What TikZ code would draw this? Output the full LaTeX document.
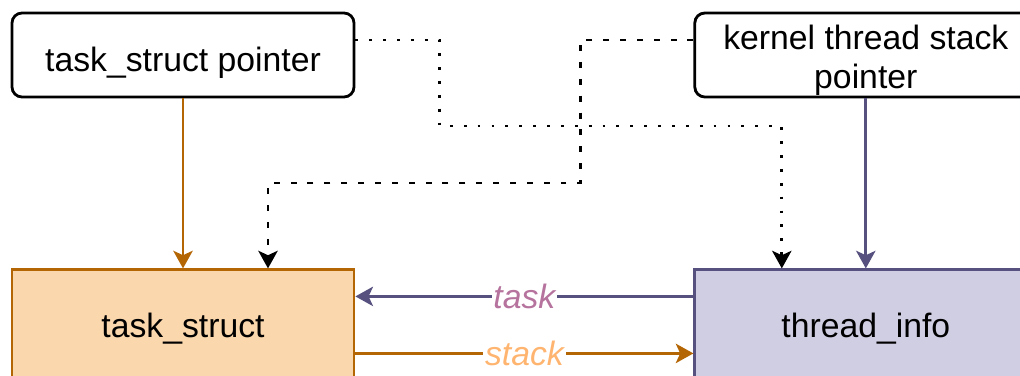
\documentclass[tikz,border=0pt]{standalone}
\usepackage{fontspec}
\setmainfont{Liberation Sans}
\usetikzlibrary{
    arrows.meta,
    positioning,
}
\definecolor{tsline}{HTML}{B46504}
\definecolor{tsfill}{HTML}{FAD7AC}
\definecolor{tiline}{HTML}{56517E}
\definecolor{tifill}{HTML}{D0CEE2}
\definecolor{tasktext}{HTML}{B5739D}
\definecolor{stacktext}{HTML}{FFB570}
\tikzstyle{pointer} = [rectangle, draw, line width=1.6pt, align=center,
    inner ysep=0pt, text height=0.78cm, text depth=0.14cm,
    rounded corners=0.2cm, minimum width=6.84cm, minimum height=1.68cm]
\tikzstyle{structbox} = [rectangle, draw=tsline, fill=tsfill, line width=1.6pt,
    minimum width=6.84cm, minimum height=2.36cm]
\tikzstyle{infobox} = [rectangle, draw=tiline, fill=tifill, line width=1.6pt,
    minimum width=6.84cm, minimum height=2.36cm]
\tikzstyle{line} = [draw, line width=1.6pt]
\tikzstyle{label} = [midway, fill=white, inner sep=1pt,
    font=\fontsize{19.2}{22}\selectfont\itshape]

\begin{document}
\begin{tikzpicture}[node distance = 3.4cm,
        font=\fontsize{19.2}{22}\selectfont,
        >={Stealth[length=10pt,width=11pt,inset=2.5pt]}]
        \useasboundingbox (-3.66,1.10) rectangle ++(20.4,-7.5);
        \clip (-3.66,1.10) rectangle ++(20.4,-7.5);
        % Place nodes
        \node [pointer] (tsptr) at (0,0) {task\_struct pointer};
        \node [pointer, text height=1.47cm, right=6.76cm of tsptr] (ksptr)
            {kernel thread stack\\pointer};
        \node [structbox, below=of tsptr] (ts) {task\_struct};
        \node [infobox, below=of ksptr] (ti) {thread\_info};
        % Draw edges
        \path [->,line,tsline] (tsptr) -- (ts);
        \path [->,line,tiline] (ksptr) -- (ti);
        \path [->,line,dash pattern=on 1.6pt off 6.3pt]
            ([yshift=0.3cm]tsptr.east) -- ++(1.68,0) -- ++(0,-1.72)
            -| ([xshift=-1.68cm]ti.north);
        \path [->,line,dash pattern=on 3.4pt off 6.2pt]
            ([yshift=0.3cm]ksptr.west) -- ++(-2.26,0) -- ++(0,-2.86)
            -| ([xshift=1.7cm]ts.north);
        \path [->,line,tiline] ([yshift=-0.56cm]ti.north west)
            -- node [label,text=tasktext] {task} ([yshift=-0.56cm]ts.north east);
        \path [->,line,tsline] ([yshift=-1.7cm]ts.north east)
            -- node [label,text=stacktext] {stack} ([yshift=-1.7cm]ti.north west);
    \end{tikzpicture}
\end{document}
